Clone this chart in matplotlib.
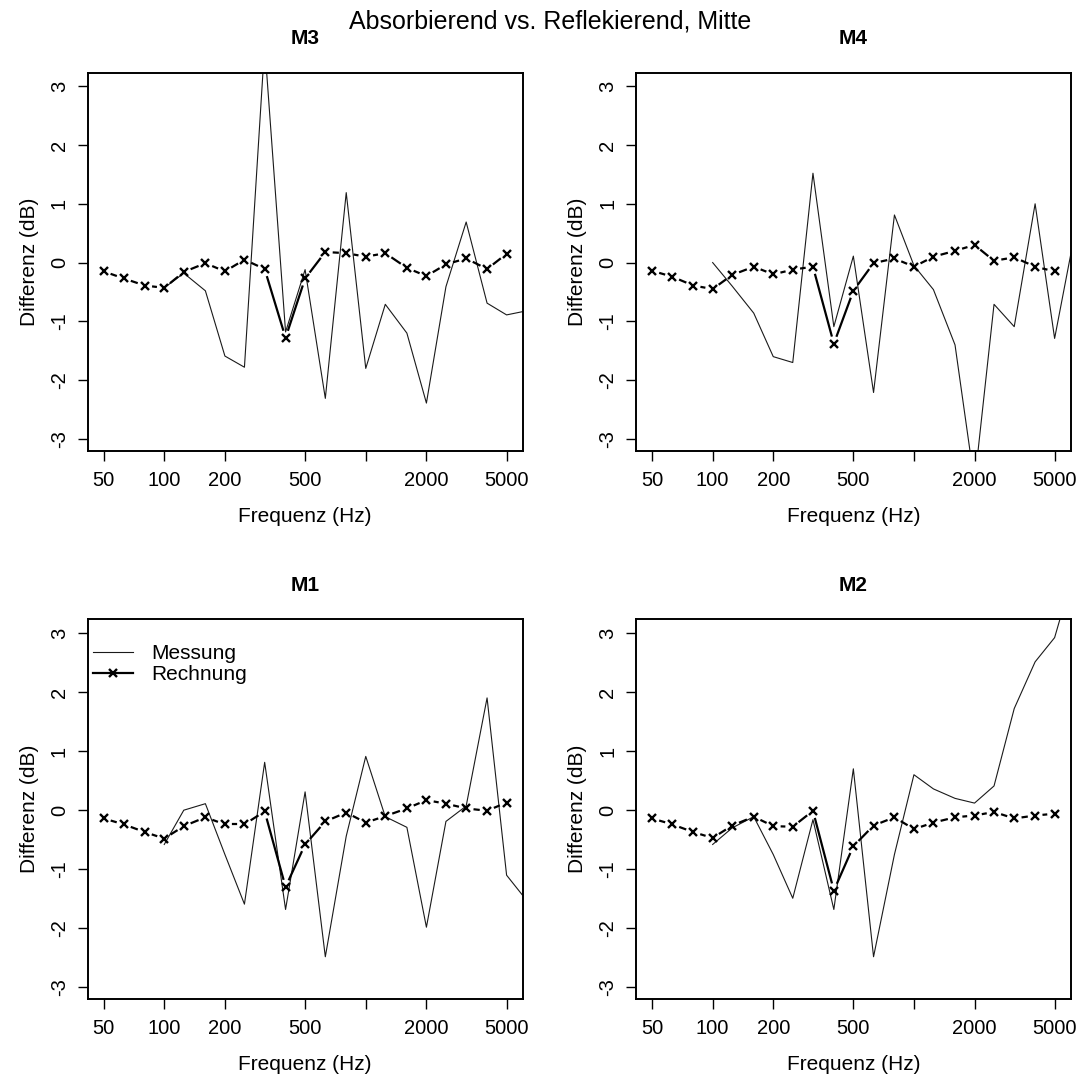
import numpy as np
import matplotlib
matplotlib.use("Agg")
import matplotlib.pyplot as plt
from matplotlib.lines import Line2D

plt.rcParams['font.family'] = ['Liberation Sans', 'DejaVu Sans']
plt.rcParams['axes.unicode_minus'] = False

# Terzband-Mittenfrequenzen
freq = [50, 63, 80, 100, 125, 160, 200, 250, 315, 400, 500, 630, 800,
        1000, 1250, 1600, 2000, 2500, 3150, 4000, 5000, 6300]
f_rech = freq[:21]   # Rechnung 50..5000 Hz
f_mess = freq[3:]    # Messung 100..6300 Hz

m3_rech = [-0.15, -0.27, -0.39, -0.43, -0.16, -0.01, -0.15, 0.05, -0.11, -1.28, -0.27,
           0.18, 0.16, 0.10, 0.16, -0.09, -0.23, -0.03, 0.07, -0.11, 0.15]
m3_mess = [-0.43, -0.18, -0.48, -1.59, -1.78, 3.7, -1.18, -0.12, -2.31, 1.19, -1.80,
           -0.71, -1.20, -2.39, -0.41, 0.69, -0.69, -0.89, -0.82]

m4_rech = [-0.14, -0.24, -0.39, -0.45, -0.21, -0.07, -0.20, -0.12, -0.07, -1.38, -0.48,
           -0.01, 0.07, -0.07, 0.10, 0.20, 0.30, 0.03, 0.09, -0.07, -0.15]
m4_mess = [0.0, -0.4, -0.86, -1.60, -1.70, 1.52, -1.09, 0.11, -2.21, 0.81, -0.05,
           -0.46, -1.40, -3.75, -0.71, -1.09, 1.00, -1.29, 0.50]

m1_rech = [-0.14, -0.24, -0.37, -0.48, -0.27, -0.12, -0.24, -0.24, -0.02, -1.30, -0.58,
           -0.19, -0.04, -0.21, -0.10, 0.03, 0.17, 0.11, 0.03, -0.01, 0.13]
m1_mess = [-0.58, 0.0, 0.11, -0.75, -1.59, 0.81, -1.68, 0.31, -2.48, -0.44, 0.91,
           -0.11, -0.29, -1.98, -0.19, 0.07, 1.90, -1.10, -1.53]

m2_rech = [-0.14, -0.24, -0.37, -0.47, -0.26, -0.11, -0.27, -0.28, -0.01, -1.36, -0.61,
           -0.26, -0.12, -0.32, -0.21, -0.12, -0.09, -0.03, -0.14, -0.09, -0.06]
m2_mess = [-0.58, -0.3, -0.11, -0.75, -1.49, -0.16, -1.68, 0.70, -2.48, -0.75, 0.60,
           0.36, 0.20, 0.12, 0.41, 1.72, 2.51, 2.92, 4.1]

W, H = 1085, 1077
fig = plt.figure(figsize=(W / 100, H / 100), dpi=100)


def rect(l, t, r, b):
    return [l / W, 1 - b / H, (r - l) / W, (b - t) / H]


panels = [
    ("M3", rect(87.5, 72.7, 522.7, 450.7), m3_rech, m3_mess),
    ("M4", rect(636, 72.7, 1070.7, 450.7), m4_rech, m4_mess),
    ("M1", rect(87.5, 619.3, 522.7, 999.3), m1_rech, m1_mess),
    ("M2", rect(636, 619.3, 1070.7, 999.3), m2_rech, m2_mess),
]


def linie_b(ax, x, y, gap=8.5, **kw):
    # wie type="b" in R: Segmente mit Luecke um die Punkte
    pts = ax.transData.transform(np.column_stack([x, y]))
    inv = ax.transData.inverted()
    for p, q in zip(pts[:-1], pts[1:]):
        d = q - p
        n = np.hypot(*d)
        if n <= 2 * gap:
            continue
        u = d / n
        seg = inv.transform([p + u * gap, q - u * gap])
        ax.plot(seg[:, 0], seg[:, 1], **kw)
    ax.plot(x, y, linestyle='none', marker='x', ms=5.5, mew=1.7, color='black')


for name, r, rech, mess in panels:
    ax = fig.add_axes(r)
    ax.set_xscale('log')
    ax.set_xlim(41.6, 6010)
    ax.set_ylim(-3.2, 3.23)
    ax.set_xticks([50, 100, 200, 500, 1000, 2000, 5000])
    ax.set_xticklabels(['50', '100', '200', '500', '', '2000', '5000'])
    ax.xaxis.set_minor_locator(matplotlib.ticker.NullLocator())
    ax.set_yticks([-3, -2, -1, 0, 1, 2, 3])
    ax.tick_params(length=7.5, width=1, labelsize=14.5, direction='out')
    ax.tick_params(axis='x', pad=7)
    ax.tick_params(axis='y', pad=6, labelrotation=90)
    for lab in ax.get_yticklabels():
        lab.set_va('center')
    for s in ax.spines.values():
        s.set_linewidth(1.4)

    ax.plot(f_mess, mess, color='#1a1a1a', lw=0.8)
    linie_b(ax, f_rech, rech, color='black', lw=1.6)

    ax.set_title(name, fontsize=15, fontweight='bold', pad=20.5)
    ax.set_xlabel('Frequenz (Hz)', fontsize=15, labelpad=12)
    ax.set_ylabel('Differenz (dB)', fontsize=15, labelpad=8)

    if name == "M1":
        handles = [Line2D([], [], color='#1a1a1a', lw=0.8),
                   Line2D([], [], color='black', lw=1.6, marker='x', ms=5.5, mew=1.7)]
        ax.legend(handles, ['Messung', 'Rechnung'], loc='upper left', frameon=False,
                  bbox_to_anchor=(0.0126, 0.934), borderaxespad=0, borderpad=0,
                  fontsize=15, handlelength=1.9, handletextpad=0.9, labelspacing=0.1)

fig.text(550 / W, 1 - 22 / H, 'Absorbierend vs. Reflekierend, Mitte',
         ha='center', va='center', fontsize=18)

fig.savefig('out.png', dpi=100)
